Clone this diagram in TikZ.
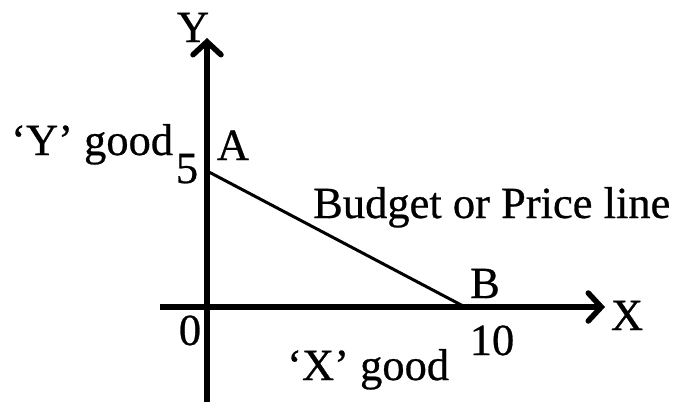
\documentclass[tikz,border=0pt]{standalone}
\usepackage{fontspec}
\setmainfont{Liberation Serif}[FakeBold=0.6]
\usetikzlibrary{arrows.meta}
\begin{document}
\begin{tikzpicture}[x=1pt,y=-1pt,
  lbl/.style={inner sep=0pt,font=\fontsize{44.5}{52}\selectfont},
  axis/.style={line width=5.5pt,-{Straight Barb[length=13pt,width=28pt,line cap=round]}},
  budget/.style={line width=3pt}]
\useasboundingbox (0,0) rectangle (678,402);
\coordinate (ytop) at (207,38);
\coordinate (ybot) at (207,402);
\coordinate (xl) at (160,307);
\coordinate (xr) at (605,307);
\coordinate (A) at (207,171);
\coordinate (B) at (465,307);
\draw[axis] (ybot) -- (ytop);
\draw[axis] (xl) -- (xr);
\draw[budget] (A) -- (B);
\node[lbl,anchor=base] (ly) at (193,42) {Y};
\node[lbl,anchor=base west] (lyg) at (11,155) {‘Y’ good};
\node[lbl,anchor=base] (l5) at (187,183) {5};
\node[lbl,anchor=base] (la) at (233,160) {A};
\node[lbl,anchor=base west] (lbud) at (313,218) {Budget or Price line};
\node[lbl,anchor=base] (lb) at (485,298) {B};
\node[lbl,anchor=base] (lx) at (627,330) {X};
\node[lbl,anchor=base] (l10) at (492,355) {10};
\node[lbl,anchor=base] (l0) at (190,345) {0};
\node[lbl,anchor=base west] (lxg) at (287,380) {‘X’ good};
\end{tikzpicture}
\end{document}
